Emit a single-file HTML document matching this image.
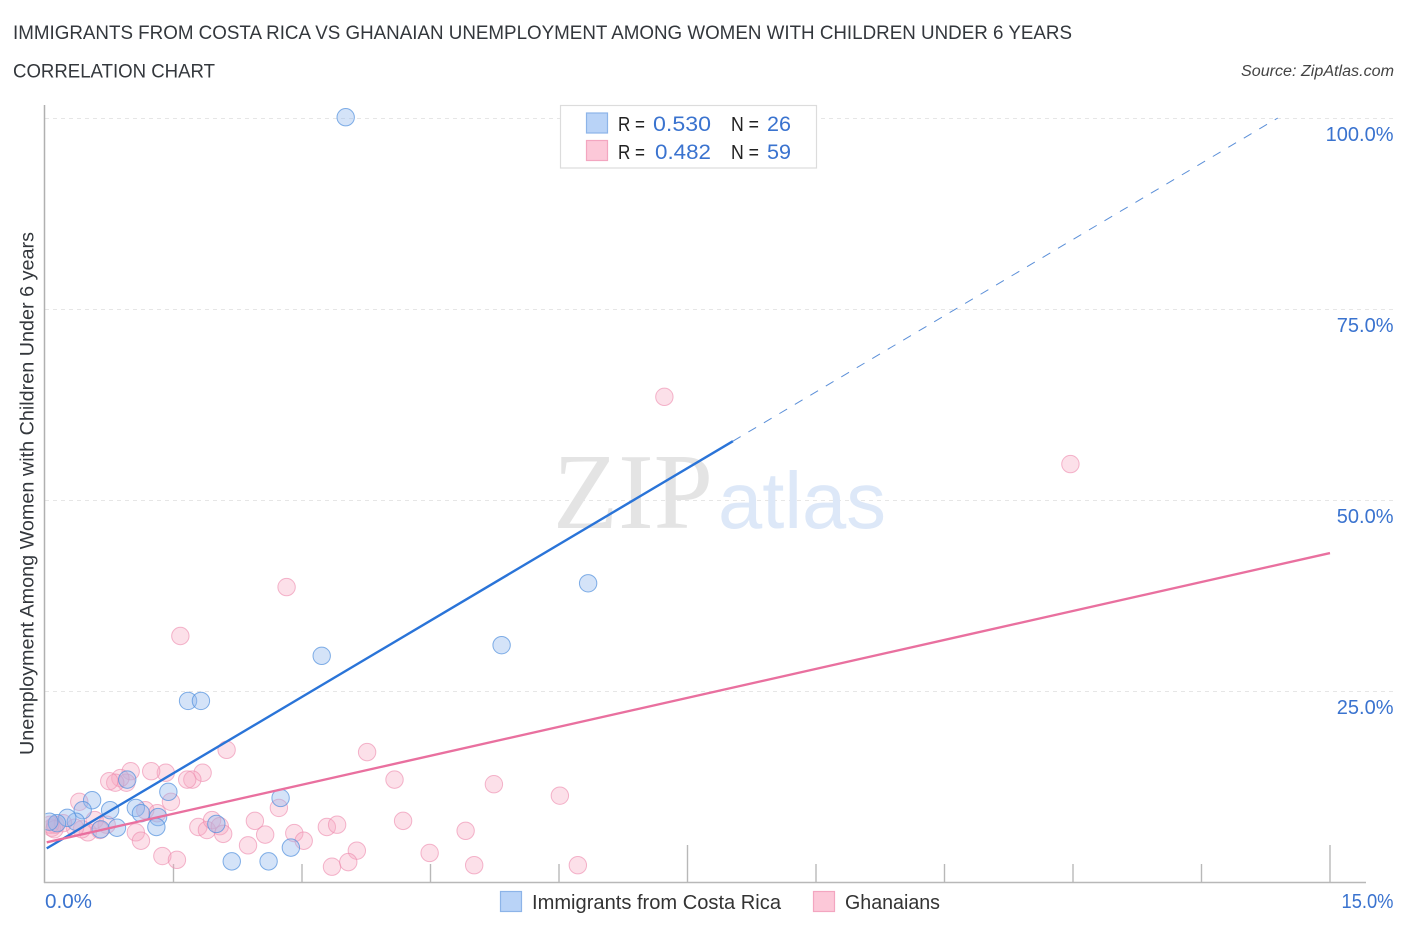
<!DOCTYPE html>
<html lang="en">
<head>
<meta charset="utf-8">
<title>Immigrants from Costa Rica vs Ghanaian Unemployment Correlation Chart</title>
<style>
html,body{margin:0;padding:0;background:#fff;}
svg{display:block;font-family:"Liberation Sans",sans-serif;}
</style>
</head>
<body>
<svg id="chart" xmlns="http://www.w3.org/2000/svg" width="1406" height="930" viewBox="0 0 1406 930">
  <defs>
    <clipPath id="plot-clip"><rect x="45.5" y="100" width="1340" height="782"/></clipPath>
  </defs>
  <rect width="1406" height="930" fill="#fff"/>
  <text x="13" y="39" font-size="19" fill="#33373c" textLength="1059" lengthAdjust="spacingAndGlyphs">IMMIGRANTS FROM COSTA RICA VS GHANAIAN UNEMPLOYMENT AMONG WOMEN WITH CHILDREN UNDER 6 YEARS</text>
  <text x="13" y="77.5" font-size="19" fill="#33373c" textLength="202" lengthAdjust="spacingAndGlyphs">CORRELATION CHART</text>
  <text x="1394" y="76" font-size="15.5" font-style="italic" fill="#444" text-anchor="end" textLength="153" lengthAdjust="spacingAndGlyphs">Source: ZipAtlas.com</text>

  <g id="grid"></g>

  <text x="553" y="528" font-family="'Liberation Serif',serif" font-size="108" fill="#e4e4e4" textLength="160" lengthAdjust="spacingAndGlyphs">ZIP</text>
  <text x="718" y="528" font-size="80" fill="#dde8f8" textLength="168" lengthAdjust="spacingAndGlyphs">atlas</text>

  <g id="xticks"></g>
  <line x1="44.5" y1="105" x2="44.5" y2="883" stroke="#b0b0b0" stroke-width="1.5"/>
  <line x1="44" y1="882.5" x2="1366" y2="882.5" stroke="#b8b8b8" stroke-width="1.5"/>

  <g clip-path="url(#plot-clip)">
    <g id="pink-points"></g>
    <g id="blue-points"></g>
  </g>
  <g id="trends"></g>

  <g id="ylabels"></g>
  <g id="xlabels"></g>

  <text transform="translate(33.5,755) rotate(-90)" font-size="19" fill="#33373c" textLength="523" lengthAdjust="spacingAndGlyphs">Unemployment Among Women with Children Under 6 years</text>

  <g>
    <rect x="560.5" y="105.5" width="256" height="62.5" fill="#fff" stroke="#dcdcdc" stroke-width="1.2"/>
    <rect x="586.5" y="113" width="21" height="20" fill="#b9d3f7" stroke="#8db4e8" stroke-width="1.2"/>
    <rect x="586.5" y="140.5" width="21" height="20" fill="#fcc8d8" stroke="#f3a6c0" stroke-width="1.2"/>
    <text x="618" y="131" font-size="20" fill="#222" textLength="27" lengthAdjust="spacingAndGlyphs">R =</text>
    <text x="653" y="131" font-size="21.5" fill="#3a73cf" textLength="58" lengthAdjust="spacingAndGlyphs">0.530</text>
    <text x="731" y="131" font-size="20" fill="#222" textLength="28" lengthAdjust="spacingAndGlyphs">N =</text>
    <text x="767" y="131" font-size="21.5" fill="#3a73cf" textLength="24" lengthAdjust="spacingAndGlyphs">26</text>
    <text x="618" y="159" font-size="20" fill="#222" textLength="27" lengthAdjust="spacingAndGlyphs">R =</text>
    <text x="655" y="159" font-size="21.5" fill="#3a73cf" textLength="56" lengthAdjust="spacingAndGlyphs">0.482</text>
    <text x="731" y="159" font-size="20" fill="#222" textLength="28" lengthAdjust="spacingAndGlyphs">N =</text>
    <text x="767" y="159" font-size="21.5" fill="#3a73cf" textLength="24" lengthAdjust="spacingAndGlyphs">59</text>
  </g>

  <g>
    <rect x="500.5" y="891.5" width="21" height="20" fill="#b9d3f7" stroke="#8db4e8" stroke-width="1.2"/>
    <text x="532" y="909" font-size="20" fill="#333" textLength="249" lengthAdjust="spacingAndGlyphs">Immigrants from Costa Rica</text>
    <rect x="813.5" y="891.5" width="21" height="20" fill="#fcc8d8" stroke="#f3a6c0" stroke-width="1.2"/>
    <text x="845" y="909" font-size="20" fill="#333" textLength="95" lengthAdjust="spacingAndGlyphs">Ghanaians</text>
  </g>
</svg>
<script>
// Chart data (x = share %, y = unemployment %)
var costaRicaX = [3.51,6.34,5.33,3.23,1.67,1.82,2.75,1.44,0.55,0.44,0.76,0.96,1.06,1.12,1.32,1.30,0.84,0.65,0.36,0.26,0.14,0.05,2.00,2.87,2.61,2.18];
var costaRicaY = [100.1,39.1,31.0,29.6,23.7,23.7,11.0,11.8,10.7,9.4,9.4,13.4,9.7,9.0,8.5,7.2,7.1,6.9,7.9,8.4,7.7,7.9,7.6,4.5,2.7,2.7];
var ghanaiansX = [7.23,11.97,2.82,1.58,3.76,4.08,5.24,6.01,4.18,4.91,4.49,5.01,6.22,3.64,2.12,1.84,1.72,1.66,1.41,1.24,1.00,0.95,0.88,0.82,0.75,0.40,1.47,1.17,1.31,1.06,1.12,1.37,1.54,1.79,1.89,1.95,2.04,2.08,2.45,2.57,2.37,2.73,2.91,3.02,3.29,3.41,3.35,3.54,0.58,0.50,0.43,0.35,0.72,0.64,0.08,0.12,0.21,0.06,0.11];
var ghanaiansY = [63.5,54.7,38.6,32.2,17.0,13.4,12.8,11.3,8.0,6.7,3.8,2.2,2.2,4.1,17.3,14.3,13.4,13.4,14.3,14.5,14.5,13.0,13.6,13.0,13.2,10.5,10.5,9.4,9.0,6.5,5.4,3.4,2.9,7.2,6.8,8.1,7.3,6.3,8.0,6.2,4.8,9.7,6.4,5.4,7.2,7.5,2.0,2.6,8.1,6.5,6.9,7.1,7.5,6.8,7.1,7.5,7.7,7.5,6.9];
var costaRicaTrendX = [0.02,8.03,14.39];
var costaRicaTrendY = [4.4,57.7,100];
var ghanaiansTrendX = [0.02,15];
var ghanaiansTrendY = [5.2,43.06];
var yTickValues = [25,50,75,100];
var yTickLabels = ["25.0%","50.0%","75.0%","100.0%"];
var xTickValues = [1.5,3,4.5,6,7.5,9,10.5,12,13.5,15];
var xTickMajor = [7.5,15];
var xEndValues = [0,15];
var xEndLabels = ["0.0%","15.0%"];

var SVGNS = "http://www.w3.org/2000/svg";
function sx(v){ return 45 + v * (1330 - 45) / 15; }
function sy(v){ return 882 - v * (882 - 118) / 100; }
function mk(tag, parentId, attrs){
  var el = document.createElementNS(SVGNS, tag);
  for (var k in attrs) el.setAttribute(k, attrs[k]);
  document.getElementById(parentId).appendChild(el);
  return el;
}

yTickValues.forEach(function(v, i){
  var g = mk("line", "grid", {x1:45, y1:sy(v)+0.5, x2:1393, y2:sy(v)+0.5, stroke:"#e6e6e6", "stroke-width":1, "stroke-dasharray":"4 4"});
  
  
  var t = mk("text", "ylabels", {x:1393.5, y:sy(v)+23, "font-size":20, fill:"#3a73cf", "text-anchor":"end"});
  t.textContent = yTickLabels[i];
  
  
});

xTickValues.forEach(function(v){
  var major = xTickMajor.indexOf(v) >= 0;
  var tk = mk("line", "xticks", {x1:sx(v), x2:sx(v), y1: major ? 845 : 864, y2:882, stroke:"#b8b8b8", "stroke-width":1.4});
  
  
});

xEndValues.forEach(function(v, i){
  var t = mk("text", "xlabels", {x: i === 0 ? sx(v) : 1393.5, y:908, "font-size":20, fill:"#3a73cf", "text-anchor": i === 0 ? "start" : "end"});
  t.textContent = xEndLabels[i];
  t.setAttribute('textLength', i === 0 ? 47 : 52);
  t.setAttribute('lengthAdjust', 'spacingAndGlyphs');
  
  
});

ghanaiansX.forEach(function(x, i){
  var c = mk("circle", "pink-points", {cx:sx(x), cy:sy(ghanaiansY[i]), r:8.7, fill:"#f8a9c3", "fill-opacity":0.36, stroke:"#ee8fb0", "stroke-opacity":0.65, "stroke-width":1});
  
  
});

costaRicaX.forEach(function(x, i){
  var c = mk("circle", "blue-points", {cx:sx(x), cy:sy(costaRicaY[i]), r:8.7, fill:"#93baee", "fill-opacity":0.4, stroke:"#4f8fdd", "stroke-opacity":0.7, "stroke-width":1});
  
  
});

var solid = mk("line", "trends", {x1:sx(costaRicaTrendX[0]), y1:sy(costaRicaTrendY[0]), x2:sx(costaRicaTrendX[1]), y2:sy(costaRicaTrendY[1]), stroke:"#2a74d8", "stroke-width":2.4});


var dash = mk("line", "trends", {x1:sx(costaRicaTrendX[1]), y1:sy(costaRicaTrendY[1]), x2:sx(costaRicaTrendX[2]), y2:sy(costaRicaTrendY[2]), stroke:"#5b8fd8", "stroke-width":1, "stroke-dasharray":"9 9"});


var pink = mk("line", "trends", {x1:sx(ghanaiansTrendX[0]), y1:sy(ghanaiansTrendY[0]), x2:sx(ghanaiansTrendX[1]), y2:sy(ghanaiansTrendY[1]), stroke:"#e9709f", "stroke-width":2.4});


</script>
</body>
</html>
